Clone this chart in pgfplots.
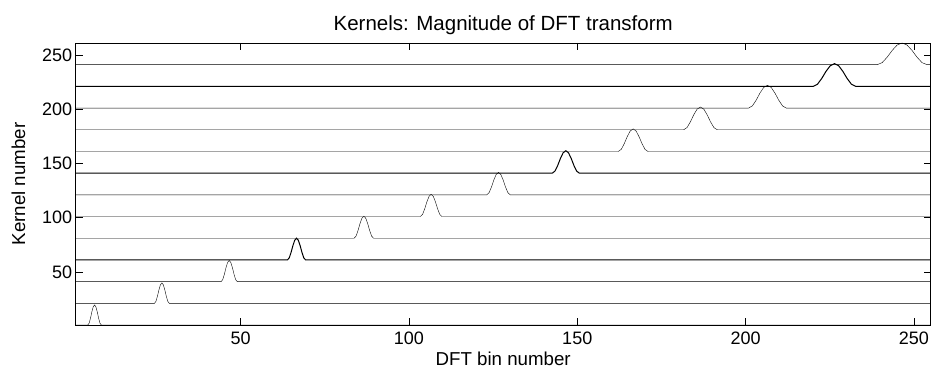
\documentclass[border=0pt]{standalone}
\usepackage{fontspec}
\setmainfont{Liberation Sans}
\usepackage{pgfplots}
\pgfplotsset{compat=1.18}
\begin{document}
\begin{tikzpicture}
\useasboundingbox (0,0) rectangle (931pt,374pt);
\begin{axis}[
  at={(75.7pt,49pt)}, anchor=south west,
  scale only axis, width=855pt, height=282pt,
  xmin=1, xmax=255, ymin=1, ymax=261,
  xtick={50,100,150,200,250}, ytick={50,100,150,200,250},
  tick align=inside, major tick length=7pt,
  axis line style={line width=0.9pt},
  every tick/.style={black, line width=0.7pt},
  /pgf/number format/assume math mode=true,
  tick label style={font=\fontsize{18}{20}\selectfont},
  xticklabel style={yshift=-3pt},
  xlabel style={font=\fontsize{18.7}{21}\selectfont, yshift=-1pt},
  ylabel style={font=\fontsize{18.7}{21}\selectfont, yshift=10pt},
  title style={font=\fontsize{20.5}{23}\selectfont, yshift=-1pt},
  title={Kernels: Magnitude of DFT transform},
  xlabel={DFT bin number}, ylabel={Kernel number},
  cycle list={{black,solid,mark=none,line width=1pt}},
]
\addplot coordinates {(1,1) (4.6,1) (5.0,2.76) (5.4,7.38) (5.8,13.12) (6.2,17.74) (6.6,19.5) (7.0,17.74) (7.4,13.12) (7.8,7.38) (8.2,2.76) (8.6,1) (256,1)};
\addplot coordinates {(1,21) (24.4,21) (24.84,22.79) (25.28,27.49) (25.72,33.31) (26.16,38.01) (26.6,39.8) (27.04,38.01) (27.48,33.31) (27.92,27.49) (28.36,22.79) (28.8,21) (256,21)};
\addplot coordinates {(1,41) (44.2,41) (44.68,42.85) (45.16,47.73) (45.64,53.77) (46.12,58.65) (46.6,60.5) (47.08,58.65) (47.56,53.77) (48.04,47.73) (48.52,42.85) (49.0,41) (256,41)};
\addplot coordinates {(1,61) (63.9,61) (64.44,62.9) (64.98,67.9) (65.52,74.1) (66.06,79.1) (66.6,81) (67.14,79.1) (67.68,74.1) (68.22,67.9) (68.76,62.9) (69.3,61) (256,61)};
\addplot coordinates {(1,81) (83.7,81) (84.28,82.93) (84.86,88.0) (85.44,94.3) (86.02,99.37) (86.6,101.3) (87.18,99.37) (87.76,94.3) (88.34,88.0) (88.92,82.93) (89.5,81) (256,81)};
\addplot coordinates {(1,101) (103.4,101) (104.04,102.95) (104.68,108.07) (105.32,114.43) (105.96,119.55) (106.6,121.5) (107.24,119.55) (107.88,114.43) (108.52,108.07) (109.16,102.95) (109.8,101) (256,101)};
\addplot coordinates {(1,121) (123.1,121) (123.8,122.97) (124.5,128.14) (125.2,134.56) (125.9,139.73) (126.6,141.7) (127.3,139.73) (128.0,134.56) (128.7,128.14) (129.4,122.97) (130.1,121) (256,121)};
\addplot coordinates {(1,141) (142.6,141) (143.4,142.97) (144.2,148.14) (145.0,154.56) (145.8,159.73) (146.6,161.7) (147.4,159.73) (148.2,154.56) (149.0,148.14) (149.8,142.97) (150.6,141) (256,141)};
\addplot coordinates {(1,161) (162.2,161) (163.08,162.98) (163.96,168.18) (164.84,174.62) (165.72,179.82) (166.6,181.8) (167.48,179.82) (168.36,174.62) (169.24,168.18) (170.12,162.98) (171.0,161) (256,161)};
\addplot coordinates {(1,181) (181.6,181) (182.6,183.0) (183.6,188.25) (184.6,194.76) (185.6,200.0) (186.6,202) (187.6,200.0) (188.6,194.76) (189.6,188.25) (190.6,183.0) (191.6,181) (256,181)};
\addplot coordinates {(1,201) (200.9,201) (202.02,203.0) (203.14,208.25) (204.26,214.76) (205.38,220.0) (206.5,222) (207.62,220.0) (208.74,214.76) (209.86,208.25) (210.98,203.0) (212.1,201) (256,201)};
\addplot coordinates {(1,221) (220.1,221) (221.36,223.0) (222.62,228.25) (223.88,234.76) (225.14,240.0) (226.4,242) (227.66,240.0) (228.92,234.76) (230.18,228.25) (231.44,223.0) (232.7,221) (256,221)};
\addplot coordinates {(1,241) (239.1,241) (240.58,242.9) (242.06,247.9) (243.54,254.1) (245.02,259.1) (246.5,261) (247.98,259.1) (249.46,254.1) (250.94,247.9) (252.42,242.9) (253.9,241) (256,241)};
\end{axis}
\end{tikzpicture}
\end{document}
